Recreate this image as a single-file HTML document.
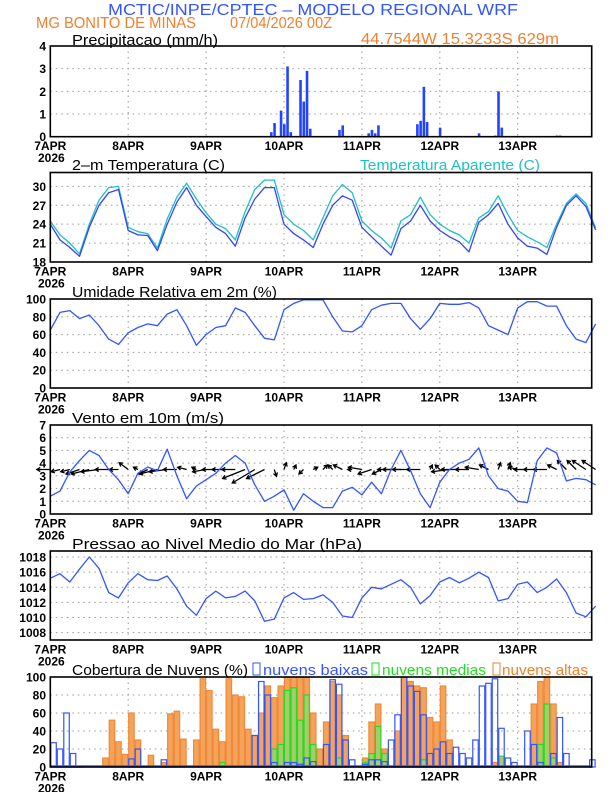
<!DOCTYPE html>
<html><head><meta charset="utf-8"><style>
body{margin:0;background:#fff}
svg{display:block}
text{font-family:"Liberation Sans",sans-serif}
.tk{font-size:12px;font-weight:bold;fill:#000}
.pt{font-size:15px;fill:#000}
</style></head><body>
<svg id="c" width="612" height="792" viewBox="0 0 612 792" xmlns="http://www.w3.org/2000/svg">
<text x="108" y="15" font-size="16" fill="#3355ff" textLength="410" lengthAdjust="spacingAndGlyphs">MCTIC/INPE/CPTEC – MODELO REGIONAL WRF</text>
<text x="36" y="28" font-size="16" fill="#f08030" textLength="160" lengthAdjust="spacingAndGlyphs">MG BONITO DE MINAS</text>
<text x="230" y="28" font-size="16" fill="#f08030" textLength="102" lengthAdjust="spacingAndGlyphs">07/04/2026 00Z</text>
<text x="361" y="44" font-size="16" fill="#f08030" textLength="198" lengthAdjust="spacingAndGlyphs">44.7544W 15.3233S 629m</text>
<text x="72" y="45" class="pt" textLength="146" lengthAdjust="spacingAndGlyphs">Precipitacao (mm/h)</text>
<text x="72" y="170" class="pt" textLength="153" lengthAdjust="spacingAndGlyphs">2–m Temperatura (C)</text>
<text x="360" y="170" font-size="15" fill="#20c0c0" textLength="180" lengthAdjust="spacingAndGlyphs">Temperatura Aparente (C)</text>
<text x="72" y="297" class="pt" textLength="205" lengthAdjust="spacingAndGlyphs">Umidade Relativa em 2m (%)</text>
<text x="72" y="423" class="pt" textLength="152" lengthAdjust="spacingAndGlyphs">Vento em 10m (m/s)</text>
<text x="72" y="549" class="pt" textLength="290" lengthAdjust="spacingAndGlyphs">Pressao ao Nivel Medio do Mar (hPa)</text>
<text x="72" y="675" class="pt" textLength="176" lengthAdjust="spacingAndGlyphs">Cobertura de Nuvens (%)</text>
<g>
<rect x="253" y="663" width="7" height="12" fill="none" stroke="#3355ff"/>
<text x="263" y="675" font-size="15" fill="#3355ff" textLength="105" lengthAdjust="spacingAndGlyphs">nuvens baixas</text>
<rect x="372" y="663" width="7" height="12" fill="none" stroke="#22dd22"/>
<text x="382" y="675" font-size="15" fill="#22dd22" textLength="104" lengthAdjust="spacingAndGlyphs">nuvens medias</text>
<rect x="493" y="663" width="7" height="12" fill="none" stroke="#f08030"/>
<text x="502" y="675" font-size="15" fill="#f08030" textLength="86" lengthAdjust="spacingAndGlyphs">nuvens altas</text>
</g>
</svg>
<script>
const dayLabels=["7APR","8APR","9APR","10APR","11APR","12APR","13APR"];
const precipHours=[68,69,71,72,73,74,77,78,79,80,89,90,98,99,100,101,113,114,115,116,120,132,137,138,139,156,157];
const precipValues=[0.2,0.6,1.15,0.55,3.1,0.2,2.5,1.55,2.9,0.35,0.3,0.5,0.15,0.3,0.15,0.5,0.55,0.7,2.2,0.65,0.4,0.15,0.05,2.0,0.4,0.05,0.05];
const tempTicks=[18,21,24,27,30];
const temp2m=[24,21.5,20.3,18.9,23.5,27,29,29.5, 23,22.3,22.2,19.8,24,27.5,29.8,27, 25.2,23.5,22.5,20.5,25,28,29.8,29.8, 24,22.5,21.5,20.3,24,27,28.5,27.8, 23.5,22,20.5,19.1,23.3,24.5,27,24.5, 23,22,21.2,19.6,24.3,25.5,27.3,24, 21.8,20.5,20.2,19.2,23.5,27,28.5,26.8,23.1];
const tempApp=[24.5,22.3,21,19.3,24,27.8,29.8,30, 23.5,22.8,22.5,20.2,24.8,28.3,30.5,28, 25.8,24,23.3,21.5,26,29.5,31,31, 25.5,24,23,21.5,25,28.5,30.3,29, 24.5,23,21.8,20.2,24.5,25.5,28.3,25.5, 24,23,22.3,21,25,26,28.5,25.5, 23,22,21.2,20.3,24,27.3,28.8,27.3,23.4];
const rhTicks=[0,20,40,60,80,100];
const rh=[65,85,87,78,82,70,55,49, 62,68,72,70,83,88,70,48, 60,68,70,90,85,70,56,54, 88,95,99,99,99,80,64,63, 70,88,93,95,95,78,66,78, 95,94,94,96,90,70,65,60, 90,97,97,92,92,70,55,51,72];
const windTicks=[0,1,2,3,4,5,6,7];
const windSpeed=[1.4,1.8,3.3,4.2,5.0,4.6,3.5,2.7, 1.6,3.2,3.7,3.4,5.1,3.0,1.2,2.2, 2.7,3.2,4.0,4.6,4.0,2.3,1.0,1.4, 1.9,0.3,1.6,1.0,0.5,0.5,1.8,2.1, 1.5,2.5,1.6,3.5,5.0,3.4,1.6,0.5, 2.5,3.5,4.0,4.3,5.2,3.0,2.0,1.8, 1.0,0.9,4.2,5.2,4.8,2.6,2.8,2.7,2.3];
const windU=[-3,-2,-2,-3,-4,-4,-3,-2, -2,-1,-2,-4,-4,-3,-2,-1, -3,-3,-3,-3,-5,-5,-4,0.5, 0.5,0.5,-1,1,1,-1,-2,-1, -3,-3,-2,-3,-4,-4,-3,0.5, -1,-4,-4,-3,-3,-2,0.5,0.5, -2,-3,-3,-3,-2,-2,-2,-3,-3];
const windV=[0,-0.5,-0.5,-1,-1,-0.5,0,0, 1.5,0.5,-1,-1,-0.5,0,0.5,0.5, -0.5,0,0,0,-2,-3,-2,-1.5, 1.5,1,-1,0.5,1,1,1,0, 0.5,-1,-1,0,0,0,0,1, 1,-0.5,0,0,0.5,1,1.5,1.5, 0.5,0,0,0,1,2,2,2,2];
const presTicks=[1008,1010,1012,1014,1016,1018];
const pressure=[1015.2,1015.8,1014.7,1016.4,1018.0,1016.5,1013.3,1012.6, 1014.6,1015.8,1015,1014.9,1015.5,1013.8,1011.5,1010.3, 1012.5,1013.5,1012.6,1012.8,1013.5,1012.2,1009.5,1009.8, 1012.6,1013.3,1012.4,1012.5,1013.0,1012,1010.2,1010, 1012.6,1014,1013.8,1014.4,1015,1014,1011.8,1012.9, 1014.7,1015.3,1014.6,1015.2,1016,1015.3,1012.2,1012.5, 1014.4,1014.7,1013.3,1014,1015.1,1013.3,1010.6,1010.1,1011.5];
const cloudTicks=[0,20,40,60,80,100];
const cloudLow=[27,20,60,15,1,0,0,0,0,0,0,0, 9,20,1,0,0,8,0,0,0,0,0,0, 0,0,0,0,0,0,0,35,95,80,5,0, 5,5,3,10,6,0,25,97,92,30,8,0, 3,8,8,6,30,58,100,90,84,58,15,20, 28,15,22,15,10,30,90,93,98,43,10,5, 0,40,25,5,0,15,55,15,0,0,0,8];
const cloudMid=[0,0,0,0,0,0,0,0,0,0,0,0, 0,0,0,0,0,0,0,0,0,0,0,0, 0,0,5,0,0,0,0,0,0,0,20,25, 85,88,52,80,25,0,0,0,10,0,0,0, 5,15,45,15,0,0,0,0,0,8,0,0, 0,0,0,0,0,0,0,0,0,12,0,0, 0,0,0,25,70,10,0,0,0,0,0,0];
const cloudHigh=[0,0,0,0,0,0,0,0,10,52,28,14, 60,30,0,13,0,5,59,62,31,0,30,98, 85,42,28,98,80,78,42,35,60,90,77,90, 100,100,100,100,60,20,50,95,80,35,0,0, 10,50,70,20,0,40,100,95,90,88,55,50, 90,30,0,0,0,0,0,0,5,10,0,0, 0,0,70,95,100,70,5,0,0,0,0,0];

const NS="http://www.w3.org/2000/svg";
const svg=document.getElementById('c');
const X0=50.3,X1=591.7,PXH=77.9/24;
function xt(t){return X0+t*PXH;}
function mk(tag,attrs,parent){const e=document.createElementNS(NS,tag);for(const k in attrs)e.setAttribute(k,attrs[k]);(parent||svg).appendChild(e);return e;}
function yScale(p,v){return p.bot-(v-p.min)/(p.max-p.min)*(p.bot-p.top);}

function panel(name,top,bot,min,max,ticks){
  const p={top,bot,min,max};
  const lblY=bot+13.5;
  const g=mk('g',{});
  
  
  p.g=g;
  for(let d=1;d<7;d++){
    const l=mk('line',{x1:xt(d*24),x2:xt(d*24),y1:top,y2:bot,stroke:'#999','stroke-dasharray':'1.5,4','stroke-width':1},g);
    
    
  }
  ticks.forEach(v=>{
    const y=yScale(p,v);
    if(v>min&&v<max){
      const l=mk('line',{x1:X0,x2:X1,y1:y,y2:y,stroke:'#999','stroke-dasharray':'1.5,4','stroke-width':1},g);
      
      
    }
    const t=mk('text',{x:46,y:y+4.5,'text-anchor':'end',class:'tk'},g);
    t.textContent=v;
    
    
  });
  dayLabels.forEach((s,i)=>{
    const t=mk('text',{x:xt(i*24),y:lblY,'text-anchor':'middle',class:'tk'},g);
    t.textContent=s;
    
    
  });
  const yr=mk('text',{x:38,y:lblY+12,class:'tk'},g);
  yr.textContent='2026';
  
  
  return p;
}
function frame(p){
  const r=mk('rect',{x:X0,y:p.top,width:X1-X0,height:p.bot-p.top,fill:'none',stroke:'#000','stroke-width':1.6});
  
  
}
function line(p,arr,step,color,name){
  let d='';arr.forEach((v,i)=>{d+=(i?'L':'M')+xt(i*step).toFixed(1)+','+yScale(p,v).toFixed(1);});
  const e=mk('path',{d,fill:'none',stroke:color,'stroke-width':1.3,'stroke-linejoin':'round'},p.g);
  
  
}

const P1=panel('precip',46,136.7,0,4,[0,1,2,3,4]);
precipHours.forEach((h,i)=>{
  const y=yScale(P1,precipValues[i]);
  const r=mk('rect',{x:xt(h)-1,y:y,width:2.6,height:P1.bot-y,fill:'#2244ff'},P1.g);
  
  
});
frame(P1);
const P2=panel('temperature',172.5,262,18,32.2,tempTicks);
line(P2,tempApp,3,'#20c0c0','apparent-temp-line');
line(P2,temp2m,3,'#3344ff','temp-line');
frame(P2);
const P3=panel('humidity',299,388,0,100,rhTicks);
line(P3,rh,3,'#3355ff','humidity-line');
frame(P3);
const P4=panel('wind',425,514,0,7,windTicks);
const yc=yScale(P4,3.5),K=4.5;
windU.forEach((u,i)=>{
  const x=xt(i*3),v=windV[i];
  const tx=x+u*K,ty=yc-v*K;
  const ang=Math.atan2(ty-yc,tx-x);
  const a1=ang+2.6,a2=ang-2.6;
  const d=`M${x},${yc}L${tx},${ty}M${tx+4*Math.cos(a1)},${ty+4*Math.sin(a1)}L${tx},${ty}L${tx+4*Math.cos(a2)},${ty+4*Math.sin(a2)}`;
  const e=mk('path',{d,stroke:'#000','stroke-width':1.3,fill:'none'},P4.g);
  
  
});
line(P4,windSpeed,3,'#3355ff','wind-speed-line');
frame(P4);
const P5=panel('pressure',551,640,1007.03,1018.8,presTicks);
line(P5,pressure,3,'#3355ff','pressure-line');
frame(P5);
const P6=panel('cloud',677,767,0,100,cloudTicks);
function bars(arr,fill,stroke,name){
  arr.forEach((v,i)=>{
    if(v<=0)return;
    const y=yScale(P6,v);
    const r=mk('rect',{x:xt(i*2)+0.5,y:y,width:2*PXH-1,height:P6.bot-y,fill,stroke,'stroke-width':1.2},P6.g);
    
    
  });
}
bars(cloudHigh,'#f5a35a','#ee8a3a','cloud-high-bar');
bars(cloudMid,'rgba(120,230,120,0.6)','#22dd22','cloud-mid-bar');
bars(cloudLow,'none','#3355ff','cloud-low-bar');
const base=mk('line',{x1:X0,x2:X1,y1:P6.bot-1,y2:P6.bot-1,stroke:'#3355ff','stroke-width':1.5},P6.g);


frame(P6);
</script>
</body></html>
